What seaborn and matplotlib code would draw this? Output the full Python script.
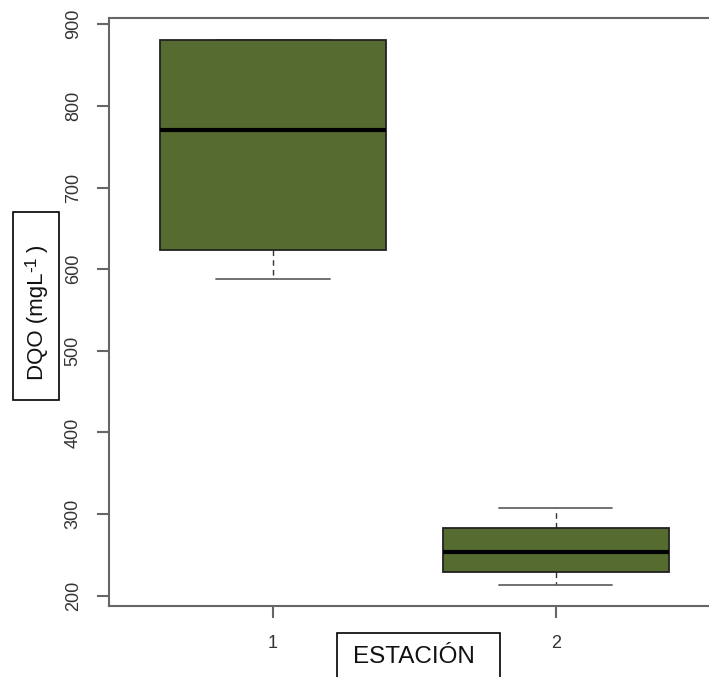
import matplotlib
matplotlib.use("Agg")
import matplotlib.pyplot as plt
from matplotlib.patches import Rectangle
import seaborn as sns
import pandas as pd

# Data (five-number style samples)
estaciones = ["1", "2"]
dqo_estacion1 = [588, 624, 771, 881, 881]
dqo_estacion2 = [213, 229, 253, 283, 307]
yticks = [200, 300, 400, 500, 600, 700, 800, 900]

df = pd.DataFrame({
    "estacion": ["1"] * len(dqo_estacion1) + ["2"] * len(dqo_estacion2),
    "dqo": dqo_estacion1 + dqo_estacion2,
})

sns.set_style("white")
plt.rcParams["font.family"] = ["Liberation Sans", "DejaVu Sans"]

W, H = 709, 677
fig = plt.figure(figsize=(W / 100, H / 100), dpi=100)
ax = fig.add_axes([0.1537, 0.1049, 0.8618, 0.8685])

box_color = "#556B2F"
sns.boxplot(
    data=df, x="estacion", y="dqo", order=estaciones, ax=ax,
    width=0.8, color=box_color, saturation=1, linecolor="black",
    linewidth=1.3, whis=1.5, showfliers=False,
    whiskerprops=dict(linestyle=(0, (4, 3)), color="#333333", linewidth=1.0,
                      zorder=1),
    capprops=dict(color="#666666", linewidth=1.3, zorder=1),
    medianprops=dict(color="black", linewidth=3, zorder=5),
    boxprops=dict(edgecolor="#222222", linewidth=1.3, zorder=3),
)

ax.set_xlim(-0.58, 1.58)
ax.set_ylim(187.3, 907.7)
ax.set_yticks(yticks)
ax.set_yticklabels([str(v) for v in yticks], rotation=90, va="center")
ax.set_xlabel("")
ax.set_ylabel("")

spine_col = "#666666"
for s in ["left", "bottom", "top", "right"]:
    ax.spines[s].set_visible(True)
    ax.spines[s].set_color(spine_col)
    ax.spines[s].set_linewidth(1.5)

ax.tick_params(axis="both", direction="out", length=8.6, width=1.5,
               color=spine_col, labelsize=13, labelcolor="#333333",
               left=True, bottom=True)
ax.tick_params(axis="y", pad=11)
ax.tick_params(axis="x", pad=12)

# Label boxes
fig.patches.append(Rectangle((13 / W, 1 - 400 / H), 46 / W, 188 / H,
                             transform=fig.transFigure, fill=False,
                             edgecolor="black", linewidth=1.2))
fig.patches.append(Rectangle((337 / W, -0.02), 163 / W, 0.02 + 1 - 633 / H,
                             transform=fig.transFigure, fill=False,
                             edgecolor="black", linewidth=1.2))

# Y label with superscript, built from pieces (reads bottom to top)
renderer = fig.canvas.get_renderer()
t1 = fig.text(43 / W, 1 - 380 / H, "DQO (mgL", rotation=90,
              rotation_mode="anchor", ha="left", va="baseline",
              fontsize=16, color="#111111")
bb = t1.get_window_extent(renderer)
y_end = bb.y1 + 1
t2 = fig.text(36 / W, y_end / H, "-1", rotation=90, rotation_mode="anchor",
              ha="left", va="baseline", fontsize=12.5, color="#111111")
bb2 = t2.get_window_extent(renderer)
fig.text(43 / W, (bb2.y1 + 4) / H, ")", rotation=90, rotation_mode="anchor",
         ha="left", va="baseline", fontsize=16, color="#111111")

fig.text(353 / W, 1 - 663 / H, "ESTACIÓN", ha="left", va="baseline",
         fontsize=17.5, color="#111111")

fig.savefig("out.png", dpi=100)
